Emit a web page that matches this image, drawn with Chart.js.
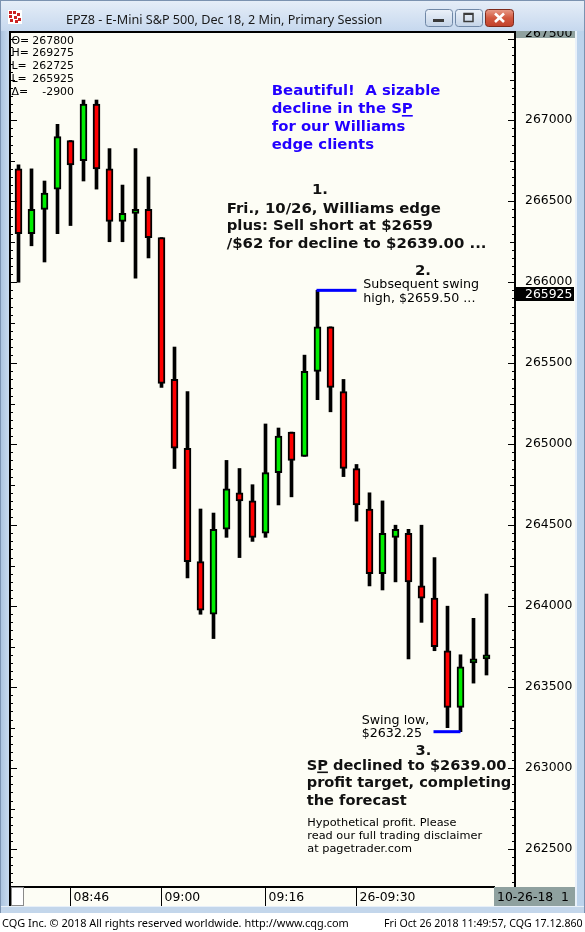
<!DOCTYPE html>
<html><head><meta charset="utf-8">
<script src="https://cdn.jsdelivr.net/npm/chart.js@4.4.0/dist/chart.umd.min.js"></script>
<style>html,body{margin:0;padding:0;background:#fff;overflow:hidden}#wrap{position:relative;width:585px;height:932px}canvas{display:block}</style>
</head><body><div id="wrap"><canvas id="c" width="585" height="932"></canvas></div>
<script>
// ---- data ----
const times = ['08:38','08:40','08:42','08:44','08:46','08:48','08:50','08:52','08:54','08:56','08:58','09:00','09:02','09:04','09:06','09:08','09:10','09:12','09:14','09:16','09:18','09:20','09:22','09:24','09:26','09:28','09:30','09:32','09:34','09:36','09:38','09:40','09:42','09:44','09:46','09:48','09:50'];
const opens  = [266700,266300,266450,266575,266875,266750,267100,266700,266375,266425,266450,266275,265400,264975,264275,263950,264475,264700,264650,264450,264825,265075,264925,265450,265725,265325,264850,264600,264200,264425,264450,264125,264050,263725,263375,263650,263675];
const highs  = [266725,266700,266625,266975,266875,267125,267125,266825,266600,266825,266650,266275,265600,265325,264600,264575,264900,264850,264750,265125,265100,265075,265550,265950,265725,265400,264875,264700,264650,264500,264475,264500,264300,264000,263700,263925,264075];
const lows   = [266000,266225,266125,266300,266350,266625,266575,266250,266250,266025,266150,265350,264850,264175,263950,263800,264425,264300,264400,264425,264625,264675,264925,265275,265200,264800,264525,264125,264100,264150,263675,263900,263725,263250,263225,263525,263575];
const closes = [266300,266450,266550,266900,266725,267100,266700,266375,266425,266450,266275,265375,264975,264275,263975,264475,264725,264650,264425,264825,265050,264900,265450,265725,265350,264850,264625,264200,264450,264475,264150,264050,263750,263375,263625,263675,263700];
const xTickIndices = [4, 11, 19, 26];
const xTickLabels  = ['08:46', '09:00', '09:16', '26-09:30'];
const yTickValues  = [262500, 263000, 263500, 264000, 264500, 265000, 265500, 266000, 266500, 267000];
const headerNames  = ['O=', 'H=', 'L=', 'L=', '\u0394='];
const headerValues = ['267800', '269275', '262725', '265925', '-2900'];
const lastPrice = 265925;
const swingHigh = {from: 23, to: 26, price: 265950};
const swingLow  = {from: 32, to: 34, price: 263225};

// ---- styles ----
const GREEN = '#00ee00', RED = '#ff0000';
const BG = '#fdfdf5', FRAME = '#bcd3ec', GRAYBOX = '#8fa19f';
const AX_FONT = '"DejaVu Sans", sans-serif';

const idx = times.map((_, i) => i);
const bodyData = idx.map(i => ({x: i, y: [opens[i], closes[i]]}));
const wickData = idx.map(i => ({x: i, y: [lows[i], highs[i]]}));
const bodyColors = idx.map(i => closes[i] >= opens[i] ? GREEN : RED);

function fitSize(ctx, text, family, weight, target) {
  ctx.font = weight + ' 100px ' + family;
  return 100 * target / ctx.measureText(text).width;
}
function block(ctx, lines, x, baselines, size, family, weight, color) {
  ctx.font = weight + ' ' + size + 'px ' + family;
  ctx.fillStyle = color; ctx.textAlign = 'left'; ctx.textBaseline = 'alphabetic';
  lines.forEach((t, i) => ctx.fillText(t, x, baselines[i]));
}
function underline(ctx, prefix, part, x, y, color) {
  const a = ctx.measureText(prefix).width, w = ctx.measureText(part).width;
  ctx.fillStyle = color; ctx.fillRect(x + a, y + 2, w, 1.6);
}
function roundRect(c, x, y, w, h, r) {
  c.beginPath(); c.moveTo(x + r, y); c.lineTo(x + w - r, y); c.quadraticCurveTo(x + w, y, x + w, y + r);
  c.lineTo(x + w, y + h - r); c.quadraticCurveTo(x + w, y + h, x + w - r, y + h); c.lineTo(x + r, y + h);
  c.quadraticCurveTo(x, y + h, x, y + h - r); c.lineTo(x, y + r); c.quadraticCurveTo(x, y, x + r, y); c.closePath();
}

const chrome = {
  id: 'chrome',
  beforeDraw(chart) {
    const c = chart.ctx; c.save();
    c.fillStyle = FRAME; c.fillRect(0, 0, 585, 932);
    let g = c.createLinearGradient(0, 0, 0, 31);
    g.addColorStop(0, '#e6eef8'); g.addColorStop(1, '#c6d8ee');
    c.fillStyle = g; c.fillRect(0, 0, 585, 31);
    c.strokeStyle = '#7b92b0'; c.lineWidth = 1; c.strokeRect(0.5, 0.5, 584, 931);
    // left strip
    g = c.createLinearGradient(0, 0, 9, 0);
    g.addColorStop(0, '#a9c2de'); g.addColorStop(1, '#c9dbef');
    c.fillStyle = g; c.fillRect(1, 31, 8, 881);
    // right strip
    c.fillStyle = '#e9f1fa'; c.fillRect(575, 31, 2, 875);
    // plot + axis background
    c.fillStyle = BG; c.fillRect(9, 31, 566, 875);
    // bottom band
    c.fillStyle = '#c3d6eb'; c.fillRect(1, 906, 583, 7);
    c.fillStyle = '#e8f0f8'; c.fillRect(1, 906, 583, 1);
    // footer
    c.fillStyle = '#ffffff'; c.fillRect(0, 913, 585, 19);
    // title icon
    c.fillStyle = '#ffffff'; c.fillRect(8, 10, 14, 14);
    c.fillStyle = '#cc2222';
    [[9,11],[13,11],[17,13],[9,15],[14,16],[18,18],[10,19],[15,20]].forEach(p => c.fillRect(p[0], p[1], 3, 3));
    // title buttons
    [425, 455].forEach(x => {
      const gg = c.createLinearGradient(0, 9, 0, 27);
      gg.addColorStop(0, '#eef3fa'); gg.addColorStop(1, '#c3d3e7');
      roundRect(c, x + 0.5, 9.5, 27, 17, 3); c.fillStyle = gg; c.fill();
      c.strokeStyle = '#6f87a6'; c.lineWidth = 1; c.stroke();
    });
    c.fillStyle = '#3a3a3a'; c.fillRect(433, 19, 11, 3);
    c.strokeStyle = '#3a3a3a'; c.lineWidth = 1.5; c.strokeRect(464, 13.5, 9, 8);
    c.fillRect(464, 13, 9, 2);
    const gr = c.createLinearGradient(0, 9, 0, 27);
    gr.addColorStop(0, '#e9a08e'); gr.addColorStop(0.5, '#d2583f'); gr.addColorStop(1, '#c0402a');
    roundRect(c, 485.5, 9.5, 28, 17, 3); c.fillStyle = gr; c.fill();
    c.strokeStyle = '#7e2a1c'; c.lineWidth = 1; c.stroke();
    c.strokeStyle = '#ffffff'; c.lineWidth = 2.6; c.beginPath();
    c.moveTo(495, 13.5); c.lineTo(504, 22); c.moveTo(504, 13.5); c.lineTo(495, 22); c.stroke();
    // title text
    const tt = 'EPZ8 - E-Mini S&P 500, Dec 18, 2 Min, Primary Session';
    const ts = fitSize(c, tt, '"Noto Sans", sans-serif', 'normal', 317);
    block(c, [tt], 66, [24], ts, '"Noto Sans", sans-serif', 'normal', '#1a1a1a');
    c.restore();
  },
  afterDraw(chart) {
    const c = chart.ctx, xs = chart.scales.x, ys = chart.scales.y;
    c.save();
    // header values
    const hs = fitSize(c, '267800', AX_FONT, 'normal', 41.7);
    c.font = hs + 'px ' + AX_FONT; c.fillStyle = '#000'; c.textBaseline = 'alphabetic';
    headerNames.forEach((n, i) => {
      const y = 43.5 + i * 12.85;
      c.textAlign = 'left'; c.fillText(n, 11.5, y);
      c.textAlign = 'right'; c.fillText(headerValues[i], 74, y);
    });
    c.textAlign = 'left';
    // frame lines
    c.fillStyle = '#000';
    c.fillRect(9, 31, 507, 2);      // top
    c.fillRect(9, 31, 2, 875);      // left
    c.fillRect(514, 31, 2, 857);    // right axis line
    c.fillRect(9, 886, 486, 2);     // bottom axis line
    // bottom-left box
    c.fillStyle = '#ffffff'; c.fillRect(12, 888, 11, 17);
    c.strokeStyle = '#8a8a8a'; c.lineWidth = 1; c.strokeRect(11.5, 887.5, 12, 18);
    // price axis tick marks
    c.fillStyle = '#000';
    for (let v = Math.ceil(ys.min / 50) * 50; v <= ys.max; v += 50) {
      const y = Math.round(ys.getPixelForValue(v));
      const len = v % 500 === 0 ? 7 : (v % 250 === 0 ? 5 : 3);
      c.fillRect(515 - len, y, len, 1);
      c.fillRect(11, y, len - 1, 1);
    }
    // gray boxes
    c.fillStyle = GRAYBOX; c.fillRect(516, 31, 59, 7);
    c.save(); c.beginPath(); c.rect(516, 31, 59, 7); c.clip();
    c.font = '12.4px ' + AX_FONT; c.fillStyle = '#000'; c.textBaseline = 'alphabetic';
    c.fillText('267500', 525, 37); c.restore();
    c.fillStyle = GRAYBOX; c.fillRect(494, 887, 81, 19);
    c.font = '12.4px ' + AX_FONT; c.fillStyle = '#000'; c.textBaseline = 'alphabetic'; c.textAlign = 'left';
    c.fillText('10-26-18  1', 497, 901);
    // last price marker
    const ly = ys.getPixelForValue(lastPrice);
    c.fillStyle = '#000'; c.fillRect(516, Math.round(ly) - 7, 58, 14);
    c.fillStyle = '#ffffff'; c.textBaseline = 'middle'; c.fillText(String(lastPrice), 525, ly);
    // swing lines
    c.fillStyle = '#0000ff';
    [swingHigh, swingLow].forEach(s => {
      const x0 = xs.getPixelForValue(s.from), x1 = xs.getPixelForValue(s.to);
      const y = ys.getPixelForValue(s.price);
      c.fillRect(x0 - 1, y - 1.5, x1 - x0 + 1, 3);
    });
    // annotations
    const BF = '"DejaVu Sans", sans-serif';
    const blue = ['Beautiful!  A sizable', 'decline in the SP', 'for our Williams', 'edge clients'];
    const bs = fitSize(c, blue[0], BF, 'bold', 169);
    block(c, blue, 271.7, [95, 113, 131, 148.5], bs, BF, 'bold', '#2200ff');
    underline(c, 'decline in the S', 'P', 271.7, 113, '#2200ff');

    const one = ['Fri., 10/26, Williams edge', 'plus: Sell short at $2659', '/$62 for decline to $2639.00 ...'];
    const os = fitSize(c, one[2], BF, 'bold', 260);
    block(c, ['1.'], 312, [194], os, BF, 'bold', '#111');
    block(c, one, 226.7, [212.7, 230.2, 248.3], os, BF, 'bold', '#111');

    block(c, ['2.'], 415, [274.5], os, BF, 'bold', '#111');
    const two = ['Subsequent swing', 'high, $2659.50 ...'];
    const ts2 = fitSize(c, two[0], BF, 'normal', 116);
    block(c, two, 363.3, [287.5, 301.7], ts2, BF, 'normal', '#000');

    const sl = ['Swing low,', '$2632.25'];
    block(c, sl, 361.7, [724, 737.3], ts2, BF, 'normal', '#000');

    const three = ['SP declined to $2639.00', 'profit target, completing', 'the forecast'];
    const s3 = fitSize(c, three[0], BF, 'bold', 200);
    block(c, ['3.'], 415.5, [754.5], s3, BF, 'bold', '#111');
    block(c, three, 306.7, [769.5, 787.3, 804.7], s3, BF, 'bold', '#111');
    underline(c, 'S', 'P', 306.7, 769.5, '#111');

    const disc = ['Hypothetical profit. Please', 'read our full trading disclaimer', 'at pagetrader.com'];
    const ds = fitSize(c, disc[1], BF, 'normal', 175);
    block(c, disc, 307.3, [825.7, 839, 851.5], ds, BF, 'normal', '#000');

    // footer
    const FF = '"Noto Sans", sans-serif';
    const f1 = 'CQG Inc. \u00a9 2018 All rights reserved worldwide. http://www.cqg.com';
    const f2 = 'Fri Oct 26 2018 11:49:57, CQG 17.12.860';
    block(c, [f1], 2, [927], fitSize(c, f1, FF, 'normal', 347), FF, 'normal', '#000');
    block(c, [f2], 384, [927], fitSize(c, f2, FF, 'normal', 199), FF, 'normal', '#000');
    c.restore();
  }
};

new Chart(document.getElementById('c').getContext('2d'), {
  type: 'bar',
  data: {
    datasets: [
      {label: 'body', data: bodyData, backgroundColor: bodyColors, borderColor: '#000', borderWidth: 2,
       borderSkipped: false, barThickness: 7, grouped: false, order: 1},
      {label: 'wick', data: wickData, backgroundColor: '#000', borderWidth: 0,
       barThickness: 3, grouped: false, order: 2}
    ]
  },
  options: {
    responsive: false, animation: false, devicePixelRatio: 1,
    layout: {padding: {left: 10, top: 32, right: 10, bottom: 26}},
    plugins: {legend: {display: false}, tooltip: {enabled: false}},
    scales: {
      x: {
        type: 'linear', position: 'bottom', offset: false,
        min: -0.6538, max: 38.1923,
        afterBuildTicks: s => { s.ticks = xTickIndices.map(v => ({value: v})); },
        afterFit: s => { s.height = 18; },
        grid: {display: true, offset: false, drawOnChartArea: false, drawTicks: true, tickLength: 18, color: '#000', lineWidth: 1},
        border: {display: false},
        ticks: {autoSkip: false, maxRotation: 0, align: 'start', labelOffset: 3, padding: -16,
          color: '#000', font: {family: AX_FONT, size: 12.4},
          callback: v => { const k = xTickIndices.indexOf(v); return k < 0 ? '' : xTickLabels[k]; }}
      },
      y: {
        type: 'linear', position: 'right', min: 262260, max: 267545,
        afterBuildTicks: s => { s.ticks = yTickValues.map(v => ({value: v})); },
        afterFit: s => { s.width = 60; },
        grid: {display: false, drawTicks: false, tickLength: 0},
        border: {display: false},
        ticks: {padding: 10, color: '#000', font: {family: AX_FONT, size: 12.4}, callback: v => String(v)}
      }
    }
  },
  plugins: [chrome]
});
</script>
</body></html>
